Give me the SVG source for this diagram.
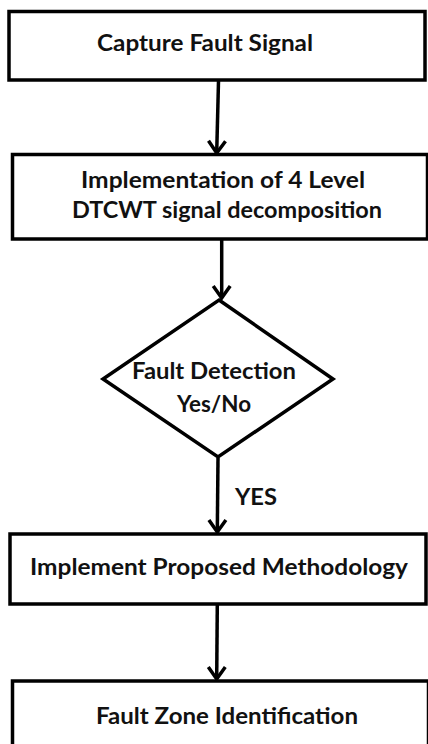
<svg xmlns="http://www.w3.org/2000/svg" width="428" height="744" viewBox="0 0 428 744">
  <style>
    .box { fill: #ffffff; stroke: #000000; stroke-width: 3.5; }
    .lbl { font-family: Lato, "Liberation Sans", sans-serif; font-weight: bold; font-size: 23px; fill: #111111; }
    .conn { fill: none; stroke: #000000; stroke-width: 3.5; }
  </style>
  <defs>
    <marker id="arr" markerUnits="userSpaceOnUse" markerWidth="24" markerHeight="20" viewBox="-12 -16 24 20" refX="0" refY="0" orient="auto-start-reverse" overflow="visible">
      <path d="M-12,-8.5 L0,0 L-12,8.5" fill="none" stroke="#000000" stroke-width="3.5"/>
    </marker>
  </defs>
  <rect width="428" height="744" fill="#ffffff"/>

  <g id="connectors">
    <path class="conn" d="M218.5,81 L216.7,153" marker-end="url(#arr)"/>
    <path class="conn" d="M221.7,240 L221.7,298" marker-end="url(#arr)"/>
    <path class="conn" d="M218,458 L217.3,532" marker-end="url(#arr)"/>
    <path class="conn" d="M217.3,605 L216.7,679" marker-end="url(#arr)"/>
    <text class="lbl" x="235" y="505" font-size="24" textLength="42" lengthAdjust="spacingAndGlyphs">YES</text>
  </g>

  <g id="capture">
    <rect class="box" x="9" y="11.5" width="416" height="68.5"/>
    <text class="lbl" x="97" y="51" textLength="216" lengthAdjust="spacingAndGlyphs">Capture Fault Signal</text>
  </g>

  <g id="dtcwt">
    <rect class="box" x="12.5" y="154.5" width="415" height="84.5"/>
    <text class="lbl" x="81" y="188" textLength="284" lengthAdjust="spacingAndGlyphs">Implementation of 4 Level</text>
    <text class="lbl" x="72" y="218" textLength="310" lengthAdjust="spacingAndGlyphs">DTCWT signal decomposition</text>
  </g>

  <g id="detection">
    <polygon class="box" points="219,300 333,379 218,457 103,379"/>
    <text class="lbl" x="132" y="379" textLength="164" lengthAdjust="spacingAndGlyphs">Fault Detection</text>
    <text class="lbl" x="177" y="412" textLength="74" lengthAdjust="spacingAndGlyphs">Yes/No</text>
  </g>

  <g id="methodology">
    <rect class="box" x="10" y="534" width="416" height="70"/>
    <text class="lbl" x="30" y="575" textLength="378" lengthAdjust="spacingAndGlyphs">Implement Proposed Methodology</text>
  </g>

  <g id="zone">
    <rect class="box" x="12.5" y="681" width="416" height="80"/>
    <text class="lbl" x="96" y="724" textLength="262" lengthAdjust="spacingAndGlyphs">Fault Zone Identification</text>
  </g>
</svg>
